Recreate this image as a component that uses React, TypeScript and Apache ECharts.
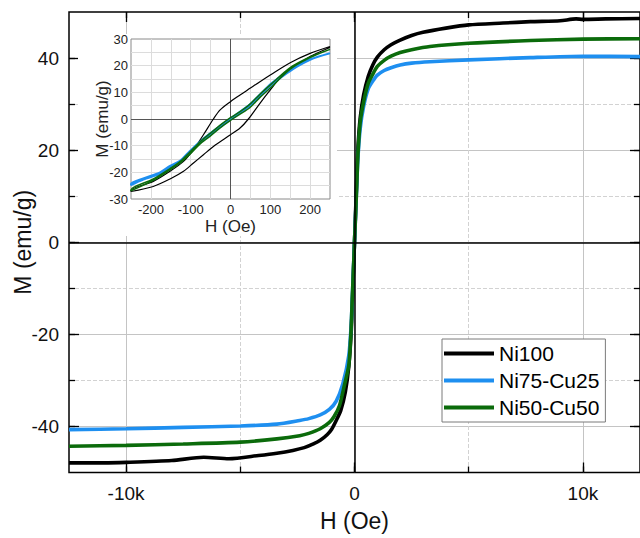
import React, { useEffect, useRef } from "react";
import * as echarts from "echarts";

// ---- Main panel data (H in Oe, M in emu/g) ----
const ni100H = [-12500, -11000, -10000, -8000, -6600, -5500, -4200, -3400, -2700, -2200, -1800, -1500, -1200, -1000, -800, -600, -400, -250, -150, -100, 0, 100, 150, 250, 400, 600, 800, 1000, 1300, 1600, 2000, 2500, 3000, 4000, 5000, 6500, 7700, 9000, 9700, 10000, 11000, 12500];
const ni100M = [-47.9, -47.9, -47.8, -47.4, -46.7, -47.0, -46.3, -45.8, -45.2, -44.6, -43.8, -43.0, -41.8, -40.6, -38.7, -36.5, -32.5, -27.0, -20.0, -14.0, 0, 14.0, 20.5, 27.0, 32.0, 36.0, 38.5, 40.2, 41.8, 42.9, 43.9, 44.9, 45.6, 46.5, 47.2, 47.6, 47.9, 48.1, 48.5, 48.4, 48.5, 48.6];

const ni75H = [-12500, -10000, -7500, -5000, -3400, -2400, -2000, -1500, -1100, -800, -510, -250, -150, -100, 0, 100, 150, 250, 400, 600, 800, 1000, 1300, 1600, 2000, 2500, 3300, 5000, 7700, 10000, 12500];
const ni75M = [-40.7, -40.5, -40.2, -39.9, -39.5, -38.7, -38.3, -37.5, -36.3, -34.5, -30.7, -24.6, -18.3, -12.6, 0, 12.6, 18.3, 24.7, 29.5, 33.3, 35.0, 36.3, 37.3, 37.9, 38.5, 38.9, 39.2, 39.6, 40.1, 40.4, 40.3];

const ni50H = [-12500, -10000, -7500, -5000, -3400, -2400, -2000, -1500, -1100, -900, -660, -440, -250, -150, -100, 0, 100, 150, 250, 400, 600, 800, 1000, 1300, 1600, 2000, 2500, 3300, 5000, 7700, 10000, 12500];
const ni50M = [-44.3, -44.1, -43.8, -43.4, -42.7, -42.0, -41.5, -40.5, -39.1, -37.9, -35.5, -31.0, -26.7, -19.0, -12.5, 0, 12.5, 19.0, 26.1, 30.5, 34.5, 36.5, 38.2, 39.5, 40.4, 41.2, 41.8, 42.5, 43.2, 43.8, 44.1, 44.2];

// ---- Inset data (low-field loops) ----
const insetNi100UpH = [250, 200, 150, 100, 74, 49, 24, 0, -26, -43, -68, -93, -118, -152, -194, -250];
const insetNi100UpM = [27.2, 24.6, 21.1, 16.5, 14.0, 11.5, 9.0, 6.5, 3.4, 0, -5.9, -11.5, -15.9, -19.6, -23.4, -26.8];
const insetNi100LoH = [-250, -194, -152, -118, -93, -68, -43, 0, 24, 45, 74, 100, 124, 150, 200, 250];
const insetNi100LoM = [-27.2, -25.3, -22.5, -19.6, -16.5, -13.4, -10.3, -5.9, -3.4, 0, 5.9, 10.9, 15.3, 18.4, 23.4, 26.8];

const insetNi75UpH = [250, 200, 158, 116, 100, 74, 49, 0, -51, -77, -102, -127, -152, -177, -219, -250];
const insetNi75UpM = [24.6, 22.4, 19.2, 14.9, 13.0, 9.2, 5.5, 0.2, -5.4, -8.5, -12.0, -15.7, -17.6, -20.0, -22.3, -24.4];
const insetNi75LoH = [-250, -219, -177, -152, -127, -102, -77, -51, 0, 49, 74, 100, 116, 158, 200, 250];
const insetNi75LoM = [-24.8, -22.7, -20.6, -18.1, -16.2, -12.5, -9.0, -5.9, -0.2, 5.0, 8.7, 12.5, 14.4, 18.8, 22.2, 24.7];

const insetNi50UpH = [250, 200, 150, 100, 74, 49, 24, 0, -26, -51, -77, -102, -127, -152, -194, -250];
const insetNi50UpM = [26.1, 23.3, 19.3, 12.8, 9.3, 5.6, 2.8, 0.5, -2.3, -5.4, -8.6, -12.4, -16.0, -18.6, -22.5, -26.6];
const insetNi50LoH = [-250, -194, -152, -127, -102, -77, -51, -26, 0, 24, 49, 74, 100, 150, 200, 250];
const insetNi50LoM = [-26.9, -23.0, -19.1, -16.6, -13.2, -9.4, -6.4, -3.3, -0.5, 1.8, 4.3, 8.1, 11.6, 18.7, 23.0, 26.1];

// ---- Names and ticks ----
const seriesNames = ["Ni100", "Ni75-Cu25", "Ni50-Cu50"];
const seriesColors = ["#000000", "#1e8ff0", "#0b6b0b"];

const mainXMajor = [-10000, 0, 10000];
const mainXAll = [-10000, -5000, 0, 5000, 10000];
const mainYMajor = [-40, -20, 0, 20, 40];
const mainYAll = [-40, -30, -20, -10, 0, 10, 20, 30, 40];

const insetXLabels = [-200, -100, 0, 100, 200];
const insetXGrid = [-200, -150, -100, -50, 0, 50, 100, 150, 200];
const insetYLabels = [-30, -20, -10, 0, 10, 20, 30];
const insetYGrid = [-25, -20, -15, -10, -5, 0, 5, 10, 15, 20, 25];

const FONT = "'Liberation Sans', Arial, sans-serif";

const pairs = (h: number[], m: number[]) => h.map((x, i) => [x, m[i]]);

export default function App() {
  const ref = useRef<HTMLDivElement>(null);

  useEffect(() => {
    const chart = echarts.init(ref.current!, null, { renderer: "svg" });

    const noLine = { show: false, onZero: false };
    const mainX = (extra: any) => ({
      type: "value",
      gridIndex: 0,
      min: -12500,
      max: 12500,
      axisLine: noLine,
      axisLabel: { show: false },
      splitLine: { show: false },
      ...extra,
    });
    const mainY = (extra: any) => ({
      type: "value",
      gridIndex: 0,
      min: -50,
      max: 50,
      axisLine: noLine,
      axisLabel: { show: false },
      splitLine: { show: false },
      ...extra,
    });
    const tickStyle = (vals: number[], len: number) => ({
      show: true,
      inside: true,
      length: len,
      customValues: vals,
      lineStyle: { color: "#000", width: 1.3 },
    });

    const option: any = {
      animation: false,
      textStyle: { fontFamily: FONT },
      grid: [
        {
          left: 69,
          right: -1,
          top: 12,
          bottom: 65.5,
          show: true,
          borderColor: "#000",
          borderWidth: 1.5,
          backgroundColor: "transparent",
          containLabel: false,
        },
        {
          left: 131,
          top: 39,
          width: 199,
          height: 160,
          show: true,
          borderColor: "#8a8a8a",
          borderWidth: 1,
          backgroundColor: "#ffffff",
          z: 3,
          containLabel: false,
        },
      ],
      legend: {
        data: seriesNames,
        orient: "vertical",
        left: 442,
        top: 339,
        padding: [4, 6, 4, 2],
        itemGap: 6,
        itemWidth: 50,
        itemHeight: 4,
        icon: "rect",
        borderColor: "#7a7a7a",
        borderWidth: 1,
        backgroundColor: "#ffffff",
        textStyle: { fontSize: 21, color: "#000", fontFamily: FONT },
      },
      graphic: [
        {
          type: "rect",
          shape: { x: 78, y: 34, width: 259, height: 202 },
          style: { fill: "#ffffff" },
          z: 2,
          silent: true,
        },
      ],
      xAxis: [
        mainX({
          position: "bottom",
          axisTick: tickStyle(mainXAll, 6),
          axisLabel: {
            show: true,
            customValues: mainXMajor,
            fontSize: 19,
            margin: 11,
            color: "#111",
            formatter: (v: number) => (v === 0 ? "0" : `${v / 1000}k`),
          },
          splitLine: { show: true, lineStyle: { color: "#d2d2d2", type: "dashed", width: 1 } },
          name: "H (Oe)",
          nameLocation: "middle",
          nameGap: 37,
          nameMoveOverlap: false,
          nameTextStyle: { fontSize: 23, color: "#111", fontFamily: FONT },
        }),
        mainX({
          position: "bottom",
          axisTick: tickStyle(mainXMajor, 10),
          splitLine: { show: true, lineStyle: { color: "#c4c4c4", type: "solid", width: 1 } },
        }),
        mainX({ position: "top", axisTick: tickStyle(mainXAll, 6) }),
        mainX({ position: "top", axisTick: tickStyle(mainXMajor, 10) }),
        {
          type: "value",
          gridIndex: 1,
          min: -250,
          max: 250,
          z: 4,
          axisLine: noLine,
          axisTick: { show: false, customValues: insetXGrid },
          axisLabel: { show: true, customValues: insetXLabels, fontSize: 13, margin: 4, color: "#222" },
          splitLine: { show: true, lineStyle: { color: "#dcdcdc", width: 1 } },
          name: "H (Oe)",
          nameLocation: "middle",
          nameGap: 19,
          nameMoveOverlap: false,
          nameTextStyle: { fontSize: 17, color: "#222", fontFamily: FONT },
        },
      ],
      yAxis: [
        mainY({
          position: "left",
          axisTick: tickStyle(mainYAll, 6),
          axisLabel: { show: true, customValues: mainYMajor, fontSize: 19, margin: 10, color: "#111" },
          splitLine: { show: true, lineStyle: { color: "#d2d2d2", type: "dashed", width: 1 } },
          name: "M (emu/g)",
          nameLocation: "middle",
          nameGap: 35,
          nameMoveOverlap: false,
          nameTextStyle: { fontSize: 23, color: "#111", fontFamily: FONT },
        }),
        mainY({
          position: "left",
          axisTick: tickStyle(mainYMajor, 10),
          splitLine: { show: true, lineStyle: { color: "#c4c4c4", type: "solid", width: 1 } },
        }),
        mainY({ position: "right", axisTick: tickStyle(mainYAll, 6) }),
        mainY({ position: "right", axisTick: tickStyle(mainYMajor, 10) }),
        {
          type: "value",
          gridIndex: 1,
          min: -30,
          max: 30,
          z: 4,
          axisLine: noLine,
          axisTick: { show: false, customValues: insetYGrid },
          axisLabel: { show: true, customValues: insetYLabels, fontSize: 13, margin: 3, color: "#222" },
          splitLine: { show: true, lineStyle: { color: "#dcdcdc", width: 1 } },
          name: "M (emu/g)",
          nameLocation: "middle",
          nameGap: 20,
          nameMoveOverlap: false,
          nameTextStyle: { fontSize: 17, color: "#222", fontFamily: FONT },
        },
      ],
      series: [
        {
          type: "line",
          name: "zero-main",
          xAxisIndex: 0,
          yAxisIndex: 0,
          data: [],
          z: 1,
          silent: true,
          markLine: {
            silent: true,
            symbol: "none",
            label: { show: false },
            lineStyle: { color: "#000", width: 1.5, type: "solid" },
            data: [{ xAxis: 0 }, { yAxis: 0 }],
          },
        },
        ...[
          [ni100H, ni100M],
          [ni75H, ni75M],
          [ni50H, ni50M],
        ].map(([h, m], i) => ({
          type: "line",
          name: seriesNames[i],
          xAxisIndex: 0,
          yAxisIndex: 0,
          data: pairs(h, m),
          showSymbol: false,
          symbol: "none",
          smooth: 0.25,
          color: seriesColors[i],
          itemStyle: { color: seriesColors[i] },
          lineStyle: { color: seriesColors[i], width: 3.6 },
          z: 2,
        })),
        {
          type: "line",
          name: "zero-inset",
          xAxisIndex: 4,
          yAxisIndex: 4,
          data: [],
          z: 5,
          silent: true,
          markLine: {
            silent: true,
            symbol: "none",
            label: { show: false },
            lineStyle: { color: "#555", width: 1, type: "solid" },
            data: [{ xAxis: 0 }, { yAxis: 0 }],
          },
        },
        ...[
          [insetNi100UpH, insetNi100UpM, insetNi100LoH, insetNi100LoM, 1.2],
          [insetNi75UpH, insetNi75UpM, insetNi75LoH, insetNi75LoM, 2],
          [insetNi50UpH, insetNi50UpM, insetNi50LoH, insetNi50LoM, 1.5],
        ].map(([uh, um, lh, lm, w]: any, i) => ({
          type: "line",
          name: seriesNames[i] + " (inset)",
          xAxisIndex: 4,
          yAxisIndex: 4,
          data: [...pairs(uh, um), ...pairs(lh, lm)],
          showSymbol: false,
          symbol: "none",
          smooth: 0.3,
          color: seriesColors[i],
          lineStyle: { color: seriesColors[i], width: w },
          z: 6,
        })),
      ],
    };

    chart.setOption(option);
    return () => chart.dispose();
  }, []);

  return (
    <div
      ref={ref}
      style={{ position: "absolute", left: 0, top: 0, width: 640, height: 538, background: "#fff" }}
    />
  );
}
